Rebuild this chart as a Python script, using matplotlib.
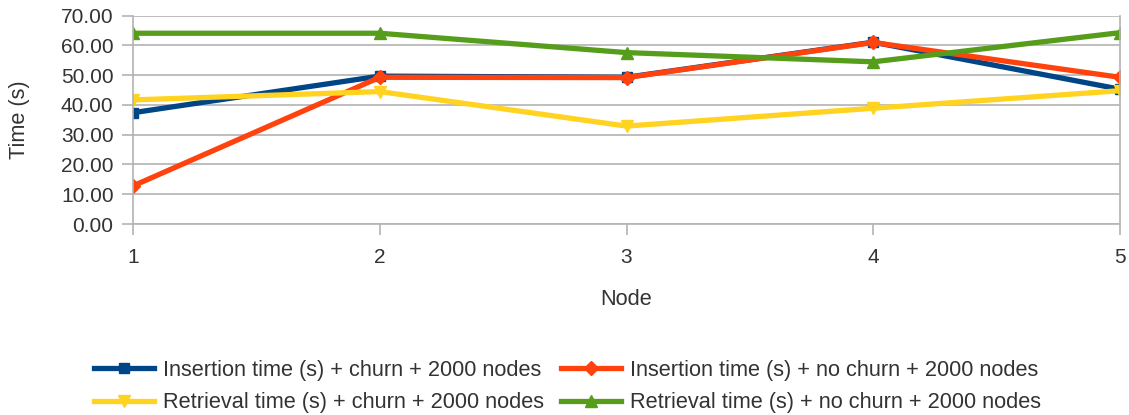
import matplotlib
matplotlib.use("Agg")
import matplotlib.pyplot as plt

plt.rcParams['font.family'] = ['Liberation Sans', 'DejaVu Sans']

nodes = [1, 2, 3, 4, 5]
ins_churn = [37.4, 49.7, 49.3, 61.1, 45.3]
ins_nochurn = [12.8, 49.3, 49.2, 61.0, 49.3]
ret_churn = [41.7, 44.5, 32.9, 38.9, 44.8]
ret_nochurn = [64.1, 64.1, 57.6, 54.5, 64.3]

labels = ["Insertion time (s) + churn + 2000 nodes",
          "Insertion time (s) + no churn + 2000 nodes",
          "Retrieval time (s) + churn + 2000 nodes",
          "Retrieval time (s) + no churn + 2000 nodes"]
yticks = [0, 10, 20, 30, 40, 50, 60, 70]

fig = plt.figure(figsize=(11.29, 4.15), dpi=100)
ax = fig.add_axes([133/1129, 1-224/415, (1120-133)/1129, (224-15.7)/415])

grid_c = '#b3b3b3'
text_c = '#333333'
fs = 15
lfs = 15.7
lw = 3.8
h1, = ax.plot(nodes, ins_churn, color='#004586', lw=lw, marker='s', ms=7.5, label=labels[0])
h2, = ax.plot(nodes, ins_nochurn, color='#ff420e', lw=lw, marker='D', ms=6.8, label=labels[1])
h3, = ax.plot(nodes, ret_churn, color='#ffd320', lw=lw, marker='v', ms=8.5, label=labels[2])
h4, = ax.plot(nodes, ret_nochurn, color='#579d1c', lw=lw, marker='^', ms=8.5, label=labels[3])

ax.set_xlim(1, 5)
ax.set_ylim(0, 70)
ax.set_xticks(nodes)
ax.set_yticks(yticks)
ax.set_yticklabels([f"{v:.2f}" for v in yticks])
ax.grid(axis='y', color=grid_c, lw=1.2)
ax.set_axisbelow(True)
for s in ['left', 'right', 'bottom']:
    ax.spines[s].set_color(grid_c)
    ax.spines[s].set_linewidth(1.2)
ax.spines['top'].set_visible(False)
ax.tick_params(axis='both', colors=grid_c, length=8, width=1.2, labelcolor=text_c, labelsize=fs)
ax.tick_params(axis='x', pad=9.5)
ax.tick_params(axis='y', pad=6)
ax.set_xlabel("Node", fontsize=lfs, color=text_c)
ax.set_ylabel("Time (s)", fontsize=lfs, color=text_c)
ax.xaxis.set_label_coords(0.5, (224-289)/208.3)
ax.yaxis.set_label_coords((30-133)/987, 0.5)

fig.legend(handles=[h1, h3, h2, h4], ncol=2, loc='upper center',
           bbox_to_anchor=(567.5/1129, 1-340.5/415), frameon=False, fontsize=lfs,
           handlelength=2.75, columnspacing=0.8, labelcolor=text_c,
           handletextpad=0.4, labelspacing=0.52)

fig.savefig("out.png", dpi=100)
